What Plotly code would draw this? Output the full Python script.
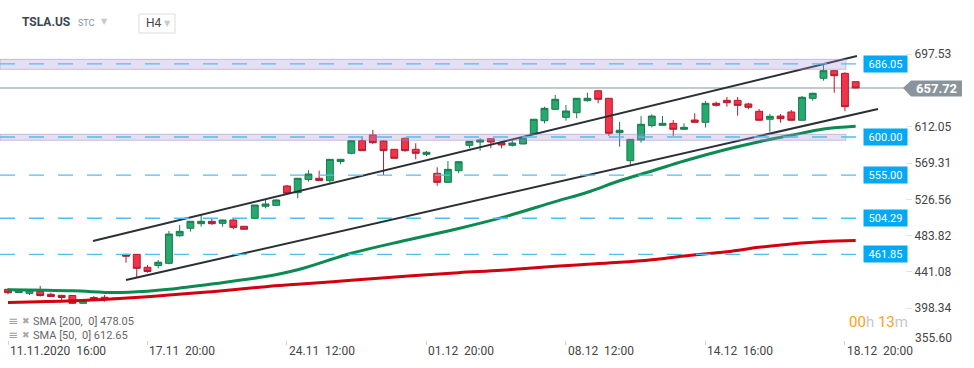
import plotly.graph_objects as go

# ---------------- data ----------------
bar_index = list(range(80))
opens = [420.6, 416.8, 415.8, 418.0, 414.7, 413.5, 413.3, 404.1, 410.9, 411.2, 408.8,
         461.8, 461.8, 446.5, 448.6, 451.2, 483.7, 492.5, 497.9, 500.7, 498.3, 502.2, 494.8, 504.2, 518.4, 519.5, 542.3, 534.4, 549.9, 551.4,
         548.5, 571.1, 580.8, 595.6, 602.4, 595.3, 585.5, 598.5, 585.5, 579.6,
         557.2, 546.6, 560.3, 590.2, 594.1, 598.0, 593.3, 590.2, 591.8, 603.5,
         619.2, 632.6, 623.2, 628.6, 642.8, 654.5, 645.6, 605.1, 572.1, 596.5,
         613.5, 613.8, 616.1, 609.1, 620.0, 617.3, 639.7, 643.2, 643.2, 638.9,
         630.3, 620.9, 624.7, 629.5, 619.7, 645.6, 669.2, 678.1, 675.0, 665.2]
highs = [421.8, 420.4, 420.4, 424.5, 416.6, 413.9, 413.9, 408.0, 412.7, 413.9, 410.4,
         462.2, 462.2, 449.2, 455.1, 489.3, 496.4, 501.1, 508.1, 504.2, 502.8, 503.4, 495.2, 519.9, 525.8, 526.6, 543.5, 551.7, 561.1, 560.3,
         574.1, 574.1, 596.5, 600.4, 608.3, 595.9, 585.9, 599.2, 592.6, 583.5,
         564.3, 571.7, 571.1, 595.3, 598.5, 598.2, 593.5, 596.1, 600.4, 621.2,
         635.7, 649.5, 637.7, 645.95, 652.2, 654.8, 645.95, 617.7, 597.6, 624.7,
         626.7, 624.7, 620.0, 616.1, 627.9, 642.4, 641.6, 647.1, 647.1, 640.4,
         633.0, 627.1, 627.1, 631.8, 648.3, 652.2, 684.8, 678.3, 676.2, 665.4]
lows = [414.7, 416.2, 413.9, 412.1, 411.5, 408.0, 403.3, 403.9, 406.8, 406.0, 408.6,
        451.9, 434.7, 440.1, 445.3, 450.0, 482.5, 488.5, 494.3, 496.4, 494.3, 491.3, 491.0, 503.1, 516.0, 519.3, 533.5, 527.8, 547.3, 548.2,
        545.5, 567.8, 579.6, 583.5, 591.8, 555.3, 574.7, 582.7, 573.7, 577.6,
        542.6, 546.4, 557.2, 586.7, 583.9, 586.7, 586.7, 588.6, 591.4, 602.4,
        616.1, 632.4, 619.2, 622.0, 641.6, 639.7, 601.2, 588.6, 567.0, 593.3,
        611.2, 613.5, 601.2, 608.8, 617.1, 611.2, 635.7, 635.7, 625.1, 632.6,
        619.4, 606.2, 616.8, 619.4, 619.4, 642.8, 666.3, 652.2, 630.3, 657.72]
closes = [416.6, 419.8, 419.8, 413.3, 412.1, 410.9, 404.1, 407.2, 409.2, 410.0, 410.0,
          459.5, 445.3, 441.6, 452.5, 485.7, 488.9, 500.7, 500.7, 497.9, 502.2, 493.6, 491.3, 519.9, 521.1, 525.8, 533.7, 551.4, 556.4, 548.8,
          573.7, 573.7, 595.6, 583.9, 593.3, 583.9, 574.9, 583.9, 580.8, 582.0,
          546.6, 561.9, 570.9, 594.9, 596.5, 594.1, 590.6, 592.9, 598.5, 620.9,
          633.8, 644.4, 630.6, 645.6, 645.6, 644.4, 604.4, 607.9, 597.3, 615.0,
          624.7, 616.1, 609.1, 611.4, 617.3, 639.7, 637.3, 640.4, 637.3, 635.0,
          619.7, 624.4, 621.6, 619.7, 646.8, 651.5, 678.1, 672.2, 635.7, 657.72]

sma_index = [0, 6, 10, 13, 15, 19, 24, 27, 32, 37, 42, 46, 51, 54, 57, 60, 63, 67, 70, 73, 76, 79]
sma50 = [420.0, 418.8, 416.8, 418.4, 420.6, 426.8, 435.6, 443.6, 463.0, 478.1, 492.2, 505.0,
         523.9, 534.9, 548.5, 559.9, 571.7, 585.5, 594.5, 602.0, 609.4, 612.65]
sma200 = [405.0, 407.05, 409.5, 411.9, 413.9, 417.8, 423.7, 426.5, 431.2, 435.9, 440.2, 443.0,
          447.7, 450.1, 452.4, 455.5, 459.8, 464.9, 470.1, 474.0, 476.9, 478.05]

tick_index = [0, 13, 26, 39, 52, 65, 78]
tick_labels = ["11.11.2020  16:00", "17.11  20:00", "24.11  12:00", "01.12  20:00",
               "08.12  12:00", "14.12  16:00", "18.12  20:00"]
ytick_values = [398.34, 441.08, 483.82, 526.56, 569.31, 612.05, 697.53]
ytick_bottom = 355.60

levels = [686.05, 600.00, 555.00, 504.29, 461.85]
zone_low = [679.7, 596.1]
zone_high = [691.5, 603.2]
last_price = 657.72

upper_channel_x = [7.92, 79.12]
upper_channel_y = [477.5, 695.4]
lower_channel_x = [11.0, 81.08]
lower_channel_y = [431.5, 633.0]

# ---------------- figure ----------------
FONT = "Roboto"
W, H = 974, 368
ML, MR, MT, MB = 0, 69, 40, 23
PW = W - ML - MR
PH = H - MT - MB


def px_x(p):
    return (p - ML) / PW


def px_y(p):
    return (H - MB - p) / PH


fig = go.Figure()

fig.add_trace(go.Scatter(x=sma_index, y=sma200, mode="lines",
                         line=dict(color="#d3000f", width=3, shape="spline"), hoverinfo="skip"))
fig.add_trace(go.Scatter(x=sma_index, y=sma50, mode="lines",
                         line=dict(color="#0b8a52", width=3, shape="spline"), hoverinfo="skip"))
fig.add_trace(go.Candlestick(
    x=bar_index, open=opens, high=highs, low=lows, close=closes,
    increasing=dict(fillcolor="#25a96e", line=dict(color="#187a4c", width=1)),
    decreasing=dict(fillcolor="#f2344a", line=dict(color="#b51a2d", width=1)),
    whiskerwidth=0, hoverinfo="skip"))
fig.add_trace(go.Scatter(x=upper_channel_x, y=upper_channel_y, mode="lines",
                         line=dict(color="#2b2f36", width=2), hoverinfo="skip"))
fig.add_trace(go.Scatter(x=lower_channel_x, y=lower_channel_y, mode="lines",
                         line=dict(color="#2b2f36", width=2), hoverinfo="skip"))

shapes = []
# current price line
shapes.append(dict(type="line", xref="paper", yref="y", x0=0, x1=px_x(904), y0=last_price, y1=last_price,
                   line=dict(color="#8a959b", width=1.2), layer="below"))
# zones
for lo, hi in zip(zone_low, zone_high):
    shapes.append(dict(type="rect", xref="paper", yref="y", x0=0, x1=px_x(846), y0=lo, y1=hi,
                       fillcolor="rgba(170,150,215,0.30)", line=dict(color="rgba(150,125,200,0.45)", width=1),
                       layer="above"))
# dashed levels
for lv in levels:
    shapes.append(dict(type="line", xref="paper", yref="y", x0=0, x1=px_x(862), y0=lv, y1=lv,
                       line=dict(color="#4fbff2", width=1.3, dash="15px,14px"), layer="above"))
# price pointer box
pl_top = 761.39 - 1.178 * 80.5
pl_bot = 761.39 - 1.178 * 96.5
shapes.append(dict(type="path", xref="paper", yref="y",
                   path=f"M {px_x(903)},{last_price} L {px_x(911)},{pl_top} L {px_x(962)},{pl_top} "
                        f"L {px_x(962)},{pl_bot} L {px_x(911)},{pl_bot} Z",
                   fillcolor="#8a959b", line=dict(width=0), layer="above"))
# H4 box
shapes.append(dict(type="rect", xref="paper", yref="paper", x0=px_x(139), x1=px_x(175),
                   y0=px_y(33), y1=px_y(14), line=dict(color="#dcdcdc", width=1), fillcolor="white"))

annotations = []
for lv in levels:
    annotations.append(dict(xref="paper", yref="y", x=px_x(863), y=lv, xanchor="left", yanchor="middle",
                            text=f"{lv:.2f}", showarrow=False, bgcolor="#03a9f4",
                            font=dict(family=FONT, size=11, color="white"),
                            width=39, height=12, borderpad=2))
annotations.append(dict(xref="paper", yref="y", x=px_x(914), y=last_price, xanchor="left", yanchor="middle",
                        text=f"<b>{last_price:.2f}</b>", showarrow=False,
                        font=dict(family=FONT, size=13, color="white")))
# bottom y label (drawn raised, as in the source)
annotations.append(dict(xref="paper", yref="paper", x=px_x(913), y=px_y(338), xanchor="left", yanchor="middle",
                        text=f"{ytick_bottom:.2f}", showarrow=False,
                        font=dict(family=FONT, size=12, color="#444")))
# header
annotations += [
    dict(xref="paper", yref="paper", x=px_x(20), y=px_y(22), xanchor="left", yanchor="middle",
         text="<b>TSLA.US</b>", showarrow=False, font=dict(family=FONT, size=12, color="#3b4653")),
    dict(xref="paper", yref="paper", x=px_x(76), y=px_y(23), xanchor="left", yanchor="middle",
         text="STC", showarrow=False, font=dict(family=FONT, size=9, color="#8496a8")),
    dict(xref="paper", yref="paper", x=px_x(99), y=px_y(21), xanchor="left", yanchor="middle",
         text="▼", showarrow=False, font=dict(family="DejaVu Sans", size=8, color="#c8c8c8")),
    dict(xref="paper", yref="paper", x=px_x(144), y=px_y(23), xanchor="left", yanchor="middle",
         text="H4", showarrow=False, font=dict(family=FONT, size=12, color="#444")),
    dict(xref="paper", yref="paper", x=px_x(162), y=px_y(23), xanchor="left", yanchor="middle",
         text="▼", showarrow=False, font=dict(family="DejaVu Sans", size=8, color="#c8c8c8")),
]
# SMA legend
for txt, yy in [("SMA [200,\u00a0 0] 478.05", 321), ("SMA [50,\u00a0 0] 612.65", 335)]:
    annotations.append(dict(xref="paper", yref="paper", x=px_x(6), y=px_y(yy), xanchor="left", yanchor="middle",
                            text="≡", showarrow=False, font=dict(family="DejaVu Sans", size=12, color="#a0a0a0")))
    annotations.append(dict(xref="paper", yref="paper", x=px_x(20), y=px_y(yy), xanchor="left", yanchor="middle",
                            text="✖", showarrow=False, font=dict(family="DejaVu Sans", size=9, color="#a8a8a8")))
    annotations.append(dict(xref="paper", yref="paper", x=px_x(31), y=px_y(yy), xanchor="left", yanchor="middle",
                            text=txt, showarrow=False, font=dict(family=FONT, size=11, color="#666")))
# countdown
annotations.append(dict(xref="paper", yref="paper", x=px_x(847), y=px_y(322), xanchor="left", yanchor="middle",
                        text="<span style='color:#f7a11a'>00</span><span style='color:#c8c8c8'>h</span> "
                             "<span style='color:#f7a11a'>13</span><span style='color:#c8c8c8'>m</span>",
                        showarrow=False, font=dict(family=FONT, size=15)))
# x labels
for ti, tl in zip(tick_index, tick_labels):
    annotations.append(dict(xref="x", yref="paper", x=ti, y=px_y(351), xanchor="left", yanchor="middle",
                            xshift=0, text=tl.replace(" ", "\u00a0"), showarrow=False,
                            font=dict(family=FONT, size=12, color="#444")))

y_top = 761.39 - 1.178 * MT
y_bot = 761.39 - 1.178 * (H - MB)

fig.update_layout(
    width=W, height=H, margin=dict(l=ML, r=MR, t=MT, b=MB, autoexpand=False),
    paper_bgcolor="white", plot_bgcolor="white",
    showlegend=False, hovermode=False,
    boxgap=0.36, boxgroupgap=0,
    shapes=shapes, annotations=annotations,
    xaxis=dict(range=[-8 / 10.73, (PW - 8) / 10.73], showgrid=False, zeroline=False,
               tickvals=tick_index, ticks="inside", ticklen=4, tickcolor="#d0d0d0",
               showticklabels=False, rangeslider=dict(visible=False), fixedrange=True),
    yaxis=dict(side="right", range=[y_bot, y_top], showgrid=False, zeroline=False,
               tickvals=ytick_values, ticktext=[f"{v:.2f}" for v in ytick_values],
               ticks="outside", ticklen=6, tickcolor="#e2e2e2",
               tickfont=dict(family=FONT, size=12, color="#444"), fixedrange=True),
)

fig.write_html("out.html", config={"displayModeBar": False},
               post_script="document.body.style.margin='0';document.body.style.padding='0';")
